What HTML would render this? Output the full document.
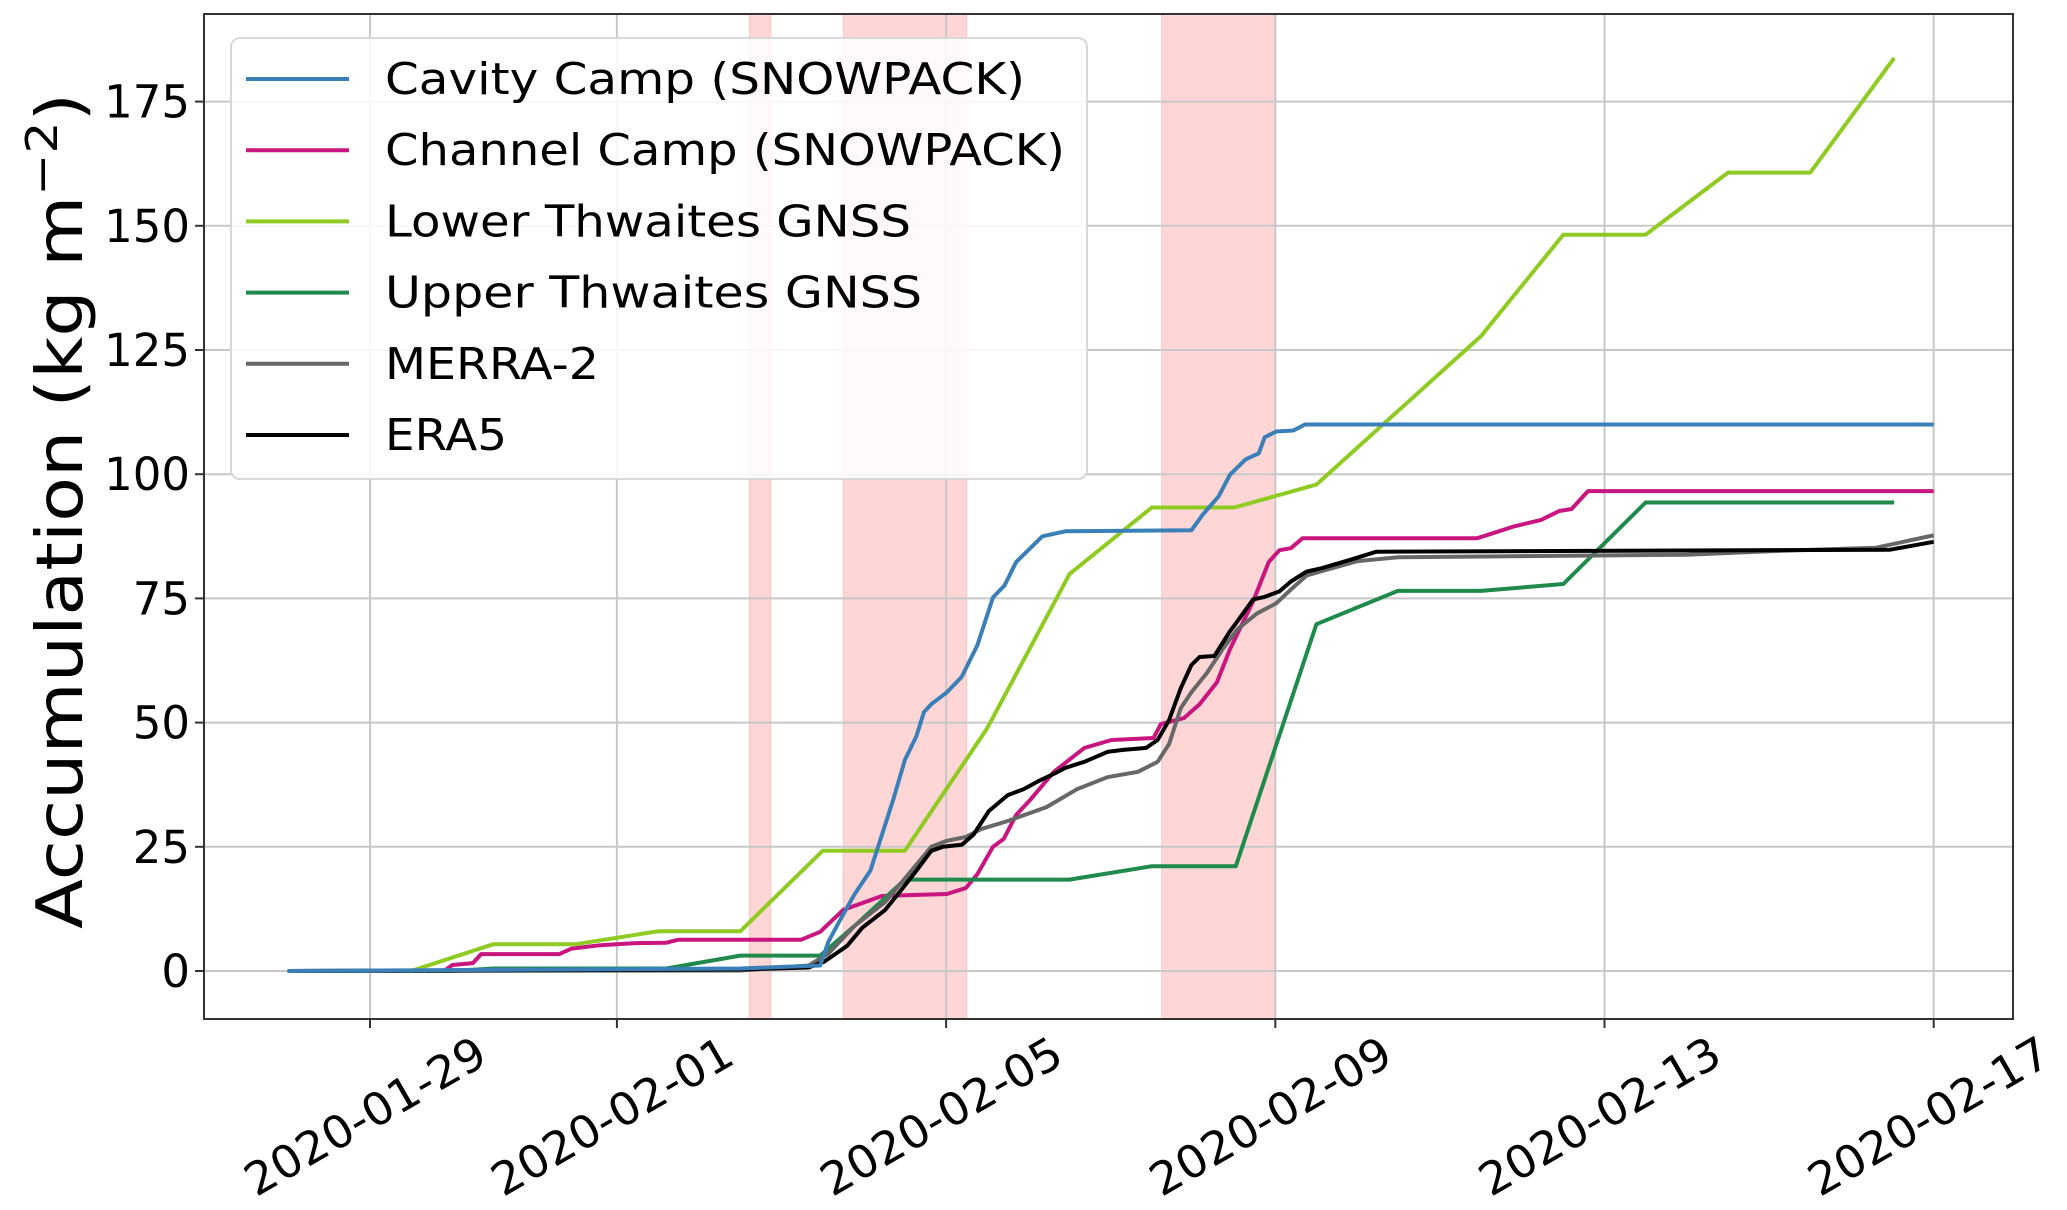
<!DOCTYPE html>
<html><head><meta charset="utf-8"><style>
html,body{margin:0;padding:0;background:#fff;}
svg{display:block;font-family:"DejaVu Sans","Liberation Sans",sans-serif;}
</style></head><body>
<svg id="chart" width="2067" height="1210" viewBox="0 0 2067 1210" xmlns="http://www.w3.org/2000/svg">
<rect x="0" y="0" width="2067" height="1210" fill="#fff"/>
<g id="spans"></g>
<g id="grid"></g>
<g id="series"></g>
<rect x="204" y="14" width="1809" height="1005" fill="none" stroke="#333" stroke-width="2"/>
<g id="axes"></g>
<text transform="translate(82,511) rotate(-90)" text-anchor="middle" font-size="64" textLength="836" lengthAdjust="spacingAndGlyphs" fill="#000">Accumulation (kg m<tspan baseline-shift="super" font-size="44">−2</tspan>)</text>
<g id="legend"></g>
</svg>
<script>
// ---- data (days since 2020-01-29, accumulation kg m^-2) ----
const spanStarts = [4.61, 5.75, 9.62];
const spanEnds = [4.87, 7.25, 11.0];
const xTickDays = [0, 3, 7, 11, 15, 19];
const xTickLabels = ["2020-01-29","2020-02-01","2020-02-05","2020-02-09","2020-02-13","2020-02-17"];
const yTicks = [0, 25, 50, 75, 100, 125, 150, 175];

const cavityDays = [-1,4.5,5.47,5.57,5.70,5.89,6.08,6.22,6.36,6.50,6.64,6.73,6.82,7.01,7.19,7.38,7.57,7.71,7.85,8.17,8.45,9.98,10.12,10.31,10.45,10.64,10.80,10.87,11.01,11.22,11.36,19];
const cavityVals = [0,0.5,1.1,5.9,9.9,15.5,20.2,27.4,34.6,42.5,47.3,52.1,53.7,56.1,59.2,65.6,75.2,77.6,82.3,87.5,88.5,88.7,91.9,95.5,99.9,103.0,104.2,107.4,108.6,108.8,110.0,110.0];

const channelDays = [-1,0.9,1.0,1.25,1.35,2.3,2.45,2.8,3.2,3.6,3.75,5.24,5.47,5.75,6.22,7.01,7.24,7.38,7.57,7.70,7.85,8.03,8.31,8.68,9.01,9.52,9.61,9.89,10.08,10.29,10.45,10.73,10.92,11.05,11.19,11.33,13.45,13.66,13.9,14.23,14.45,14.6,14.8,19];
const channelVals = [0,0,1.2,1.6,3.4,3.4,4.5,5.2,5.6,5.7,6.3,6.3,7.9,12.3,15.1,15.5,16.7,19.5,25.0,26.6,31.4,34.6,40.1,44.9,46.5,46.9,49.7,50.9,53.7,58.1,64.8,74.4,82.3,84.7,85.1,87.1,87.1,88.2,89.5,90.8,92.6,93.0,96.6,96.6];

const lowerDays = [-1,0.5,1.5,2.5,3.5,4.5,5.5,6.5,7.5,8.5,9.5,10.5,11.5,13.5,14.5,15.5,16.5,17.5,18.52];
const lowerVals = [0,0,5.4,5.4,8.0,8.0,24.2,24.2,48.9,79.9,93.3,93.3,97.9,127.8,148.2,148.2,160.7,160.7,183.8];

const upperDays = [-1,1,1.5,3.6,4.5,5.47,5.89,6.5,8.5,9.5,10.52,11.5,12.49,13.5,14.5,15.5,18.52];
const upperVals = [0,0,0.5,0.5,3.1,3.1,9.1,18.4,18.4,21.1,21.1,69.8,76.5,76.5,77.9,94.3,94.3];

const merraDays = [-1,4.5,5.33,5.57,5.89,6.26,6.54,6.82,7.01,7.24,7.43,7.75,8.22,8.59,8.96,9.33,9.57,9.71,9.85,9.98,10.17,10.36,10.54,10.78,11.01,11.19,11.38,11.61,12.0,12.5,16.0,17.0,18.3,19];
const merraVals = [0,0.1,1.1,3.5,9.1,13.9,19.4,25.0,26.2,27.0,28.6,30.2,33.0,36.6,39.0,40.1,42.1,45.7,52.9,56.1,60.0,64.8,68.8,72.0,74.0,76.8,79.6,80.7,82.5,83.3,83.8,84.5,85.2,87.7];

const eraDays = [-1,4.5,5.33,5.52,5.80,5.98,6.26,6.45,6.64,6.82,6.96,7.19,7.33,7.52,7.75,7.94,8.12,8.31,8.45,8.68,8.96,9.15,9.43,9.57,9.71,9.85,9.98,10.08,10.26,10.45,10.54,10.73,10.87,11.05,11.19,11.38,11.57,11.9,12.23,18.47,19];
const eraVals = [0,0.3,0.7,1.9,5.1,8.7,12.3,16.2,20.2,24.2,25.0,25.4,27.4,32.2,35.4,36.6,38.2,39.7,40.9,42.1,44.1,44.5,44.9,46.5,50.5,56.9,61.6,63.2,63.4,68.4,70.4,74.8,75.3,76.4,78.4,80.4,81.1,82.7,84.4,84.8,86.4];

// ---- scales ----
const X0 = 370, PXD = 82.3, Y0 = 971, PXV = 4.968;
function xs(d){ return X0 + PXD*d; }
function ys(v){ return Y0 - PXV*v; }
const NS = "http://www.w3.org/2000/svg";
function mk(tag, attrs, parent){ const e=document.createElementNS(NS,tag); for(const k in attrs) e.setAttribute(k,attrs[k]); parent.appendChild(e); return e; }

// spans
const gS = document.getElementById('spans');
for(let i=0;i<spanStarts.length;i++){
  const r = mk('rect',{x:xs(spanStarts[i]),y:14,width:xs(spanEnds[i])-xs(spanStarts[i]),height:1005,fill:'#ffd6d6',stroke:'#fbc4c4','stroke-width':1},gS);
  
  
}
// grid + ticks
const gG = document.getElementById('grid'), gA = document.getElementById('axes');
xTickDays.forEach((d,i)=>{
  const x = xs(d);
  const l = mk('line',{x1:x,y1:14,x2:x,y2:1019,stroke:'#c8c8c8','stroke-width':2},gG);
  
  
  mk('line',{x1:x,y1:1019,x2:x,y2:1028,stroke:'#333','stroke-width':2},gA);
  const t = mk('text',{transform:`translate(${x-5},1116) rotate(-30)`,y:16,'text-anchor':'middle','font-size':45,textLength:270,lengthAdjust:'spacingAndGlyphs',fill:'#000'},gA);
  t.textContent = xTickLabels[i];
  
  
});
yTicks.forEach(v=>{
  const y = ys(v);
  const l = mk('line',{x1:204,y1:y,x2:2013,y2:y,stroke:'#c8c8c8','stroke-width':2},gG);
  
  
  mk('line',{x1:195,y1:y,x2:204,y2:y,stroke:'#333','stroke-width':2},gA);
  const t = mk('text',{x:190,y:y+16,'text-anchor':'end','font-size':45,fill:'#000'},gA);
  t.textContent = String(v);
  
  
});
// series
const seriesList = [
  {name:'Cavity Camp (SNOWPACK)', days:cavityDays, vals:cavityVals, color:'#3a7fb8', key:'cavity-camp'},
  {name:'Channel Camp (SNOWPACK)', days:channelDays, vals:channelVals, color:'#c8157f', key:'channel-camp'},
  {name:'Lower Thwaites GNSS', days:lowerDays, vals:lowerVals, color:'#8fcb22', key:'lower-thwaites'},
  {name:'Upper Thwaites GNSS', days:upperDays, vals:upperVals, color:'#1f8a4c', key:'upper-thwaites'},
  {name:'MERRA-2', days:merraDays, vals:merraVals, color:'#676767', key:'merra2'},
  {name:'ERA5', days:eraDays, vals:eraVals, color:'#000000', key:'era5'}
];
const gL = document.getElementById('series');
const drawOrder = [1,2,3,4,5,0];
drawOrder.forEach(i=>{
  const s = seriesList[i];
  const pts = s.days.map((d,j)=>xs(d).toFixed(1)+','+ys(s.vals[j]).toFixed(1)).join(' ');
  const p = mk('polyline',{points:pts,fill:'none',stroke:s.color,'stroke-width':4,'stroke-linejoin':'round','stroke-linecap':'butt'},gL);
  
  
});
// legend
const gLeg = document.getElementById('legend');
const box = mk('rect',{x:231,y:38,width:856,height:441,rx:9,fill:'#fff','fill-opacity':0.85,stroke:'#d8d8d8','stroke-width':2},gLeg);


const legLens = [640,680,526,537,214,122];
seriesList.forEach((s,i)=>{
  const y = 79 + i*71.2;
  const ln = mk('line',{x1:246,y1:y,x2:349,y2:y,stroke:s.color,'stroke-width':4},gLeg);
  
  
  const t = mk('text',{x:385,y:y+15,'font-size':44,textLength:legLens[i],lengthAdjust:'spacingAndGlyphs',fill:'#000'},gLeg);
  t.textContent = s.name;
  
  
});
</script>
</body></html>
